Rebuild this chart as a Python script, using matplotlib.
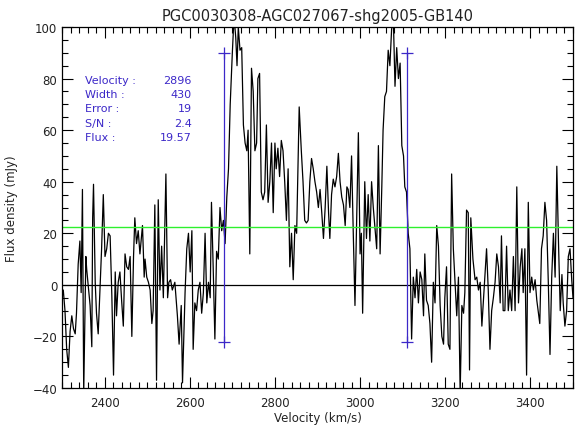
import numpy as np
import matplotlib
matplotlib.use('Agg')
from matplotlib import pyplot as plt
from matplotlib.ticker import MultipleLocator

# channels (km/s, mJy)
vel = [
    2300, 2303, 2307, 2311, 2315, 2319, 2323, 2327, 2331, 2334, 2338, 2342, 2345, 2348, 2351,
    2356, 2358, 2362, 2366, 2370, 2372, 2374, 2378, 2381, 2385, 2389, 2393, 2397, 2401, 2405,
    2409, 2413, 2417, 2421, 2425, 2428, 2432, 2436, 2440, 2444, 2448, 2452, 2456, 2460, 2464,
    2468, 2471, 2475, 2479, 2483, 2489, 2493, 2495, 2499, 2503, 2507, 2511, 2514, 2518, 2522,
    2526, 2530, 2534, 2538, 2544, 2548, 2551, 2555, 2559, 2565, 2571, 2575, 2580, 2583, 2589,
    2593, 2597, 2601, 2605, 2608, 2612, 2616, 2620, 2624, 2628, 2632, 2636, 2640, 2644, 2648,
    2651, 2655, 2659, 2663, 2667, 2671, 2675, 2679, 2683, 2687, 2691, 2695, 2700, 2704, 2708,
    2711, 2714, 2718, 2722, 2726, 2730, 2734, 2737, 2741, 2745, 2749, 2753, 2757, 2760, 2764,
    2768, 2772, 2776, 2780, 2784, 2788, 2792, 2796, 2800, 2803, 2807, 2811, 2815, 2819, 2823,
    2827, 2831, 2835, 2839, 2843, 2847, 2851, 2857, 2862, 2866, 2870, 2874, 2878, 2882, 2886,
    2890, 2894, 2898, 2902, 2906, 2910, 2914, 2918, 2922, 2926, 2929, 2933, 2937, 2941, 2945,
    2949, 2953, 2957, 2961, 2965, 2969, 2972, 2976, 2980, 2984, 2988, 2992, 2996, 3000, 3003,
    3006, 3011, 3015, 3019, 3023, 3027, 3031, 3035, 3039, 3043, 3047, 3051, 3054, 3058, 3062,
    3066, 3070, 3074, 3078, 3082, 3086, 3090, 3094, 3098, 3102, 3105, 3109, 3113, 3117, 3121,
    3125, 3129, 3133, 3137, 3141, 3145, 3149, 3152, 3156, 3160, 3164, 3168, 3172, 3176, 3180,
    3184, 3188, 3192, 3196, 3199, 3203, 3207, 3211, 3215, 3219, 3223, 3227, 3231, 3235, 3239,
    3243, 3246, 3250, 3254, 3257, 3260, 3265, 3270, 3274, 3278, 3282, 3286, 3290, 3293, 3297,
    3301, 3305, 3309, 3313, 3317, 3321, 3325, 3329, 3332, 3336, 3340, 3344, 3348, 3352, 3356,
    3360, 3364, 3368, 3372, 3376, 3380, 3383, 3387, 3391, 3395, 3399, 3403, 3407, 3411, 3415,
    3418, 3422, 3426, 3430, 3434, 3438, 3442, 3446, 3450, 3454, 3458, 3462, 3466, 3470, 3474,
    3477, 3481, 3485, 3489, 3493, 3497, 3500,
]
flux = [
    -5, -2, -10, -25, -32, -18, -12, -17, -19, -11, 8, 17, -3, 37, -42,
    11, 6, -1, -8, -24, 26, 39, 1, -11, -19, -2, 14, 35, 11, 14,
    20, 19, -4, -35, 5, -12, 1, 5, -6, -16, 12, 7, 6, 11, -20,
    11, 26, 16, 21, 12, 23, 3, 10, 3, 1, -2, -15, -10, 31, -37,
    33, -2, 15, -5, 43, -5, 1, 2, -2, 1, -12, -23, -8, -38, -3,
    14, 20, 5, 21, -25, -7, -10, -2, 1, -11, -3, 20, -7, 1, -5,
    32, 7, -21, 13, 10, 30, 21, 25, 16, 34, 45, 70, 90, 104, 96,
    85, 100, 91, 92, 62, 55, 52, 60, 12, 84, 75, 52, 55, 80, 82,
    36, 33, 36, 62, 32, 40, 55, 28, 55, 45, 53, 42, 56, 52, 40,
    25, 45, 7, 20, 2, 23, 20, 69, 52, 40, 25, 24, 25, 40, 49,
    45, 40, 36, 30, 37, 28, 18, 30, 46, 28, 18, 35, 41, 38, 42,
    51, 40, 34, 31, 23, 38, 37, 30, 50, 20, -8, 25, 59, 12, 20,
    -11, 40, 18, 35, 17, 40, 30, 22, 14, 54, 12, 38, 60, 73, 75,
    91, 85, 99, 104, 77, 92, 80, 86, 54, 50, 38, 36, 20, 14, -21,
    3, -5, 6, -7, 5, 2, -12, 12, -6, -8, -15, -30, 1, -7, 23,
    15, -8, -20, -23, -5, 7, -23, -25, 43, 14, 1, -12, 3, -42, -8,
    -11, -3, 29, 28, -33, 26, 10, 2, 3, -2, 1, -16, -5, 3, 14,
    -2, -25, -10, -5, 1, 12, 7, -7, 19, -10, -10, 15, -10, -2, -10,
    11, -10, 38, -7, 7, 14, -3, 14, -35, 32, -3, 3, -2, 2, -6,
    -10, -15, 14, 19, 32, 25, 1, -27, 3, 20, 3, 46, 16, -10, 4,
    -7, -16, -10, 11, 14, 2, -5,
]

# fit results
v_edges = [2681, 3111]
edge_lo, edge_hi = -22, 90
baseline = 22.5
stat_names = ['Velocity :', 'Width :', 'Error :', 'S/N :', 'Flux :']
stat_vals = ['2896', '430', '19', '2.4', '19.57']

blue = '#3c28c8'

fig = plt.figure(figsize=(5.76, 4.27), dpi=100)
ax = fig.add_axes([62/576, 1 - 389/427, 511/576, 361/427])

ax.plot(vel, flux, color='black', lw=0.9)
ax.axhline(0, color='black', lw=0.9)
ax.axhline(baseline, color='#2ef02e', lw=1.0)
for v in v_edges:
    ax.plot([v, v], [edge_lo, edge_hi], color=blue, lw=0.9, marker='+', ms=8, mew=0.9)

ax.set_xlim(2300, 3500)
ax.set_ylim(-40, 100)
ax.xaxis.set_major_locator(MultipleLocator(200))
ax.xaxis.set_minor_locator(MultipleLocator(20))
ax.yaxis.set_major_locator(MultipleLocator(20))
ax.yaxis.set_minor_locator(MultipleLocator(5))
ax.tick_params(which='both', direction='in', top=True, right=True, labelsize=8.5, width=0.8,
               labelcolor='#222222')
ax.tick_params(which='major', length=8)
ax.tick_params(which='minor', length=4)
ax.tick_params(axis='x', pad=6)
for s in ax.spines.values():
    s.set_linewidth(0.9)

ax.set_title('PGC0030308-AGC027067-shg2005-GB140', fontsize=10.5, pad=5, color='#222222')
ax.set_xlabel('Velocity (km/s)', fontsize=8.5, labelpad=1, color='#222222')
ax.set_ylabel('Flux density (mJy)', fontsize=8.5, labelpad=10, color='#222222')

ys = [0.853, 0.814, 0.776, 0.734, 0.695]
for name, val, y in zip(stat_names, stat_vals, ys):
    ax.text(0.045, y, name, transform=ax.transAxes, color=blue, fontsize=8, va='center')
    ax.text(0.254, y, val, transform=ax.transAxes, color=blue, fontsize=8, va='center', ha='right')

fig.savefig('out.png', dpi=100)
